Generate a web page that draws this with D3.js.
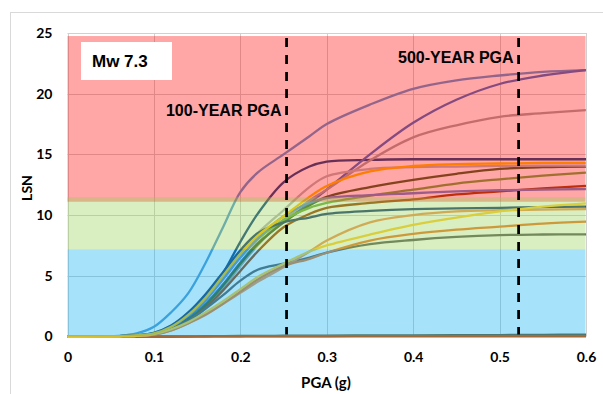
<!DOCTYPE html>
<html>
<head>
<meta charset="utf-8">
<script src="https://cdn.jsdelivr.net/npm/d3@7"></script>
<style>
  body { margin: 0; background: #fff; }
  text { font-family: Lato, "Open Sans", sans-serif; font-weight: 700; fill: #000; }
  .note { font-family: "Liberation Sans", Arial, sans-serif; }
</style>
</head>
<body>
<svg id="chart" width="603" height="394"></svg>
<script>
// PGA sample points shared by every LSN curve
const pga = [0, 0.06, 0.08, 0.1, 0.12, 0.14, 0.16, 0.18, 0.2, 0.22, 0.25, 0.28, 0.3, 0.35, 0.4, 0.45, 0.5, 0.55, 0.6];

// LSN values of each site profile at the PGA points above
const lsnNearZeroA = [0, 0, 0, 0, 0, 0.01, 0.02, 0.03, 0.04, 0.05, 0.06, 0.07, 0.08, 0.09, 0.1, 0.11, 0.12, 0.14, 0.15];
const lsnNearZeroB = [0, 0, 0, 0, 0, 0, 0.01, 0.01, 0.01, 0.02, 0.02, 0.02, 0.02, 0.03, 0.03, 0.03, 0.03, 0.03, 0.03];
const lsnProfile01 = [0, 0.05, 0.25, 0.8, 2.0, 3.6, 6.1, 9.0, 11.9, 13.5, 15.0, 16.5, 17.5, 19.1, 20.4, 21.1, 21.5, 21.8, 21.95];
const lsnProfile02 = [0, 0.03, 0.1, 0.2, 0.7, 1.6, 3.0, 5.2, 7.8, 10.1, 12.7, 14.0, 14.4, 14.55, 14.6, 14.6, 14.6, 14.6, 14.6];
const lsnProfile03 = [0, 0.03, 0.1, 0.2, 0.6, 1.4, 2.7, 4.3, 6.1, 7.7, 9.4, 11.0, 12.1, 15.0, 17.6, 19.5, 20.8, 21.5, 21.95];
const lsnProfile04 = [0, 0.03, 0.1, 0.2, 0.6, 1.3, 2.5, 4.0, 5.8, 7.5, 9.6, 11.2, 12.1, 14.5, 16.4, 17.4, 18.1, 18.4, 18.65];
const lsnProfile05 = [0, 0.03, 0.1, 0.2, 0.6, 1.4, 2.6, 4.2, 6.0, 7.6, 9.4, 10.8, 11.5, 12.3, 12.9, 13.4, 13.8, 13.95, 14.0];
const lsnProfile06 = [0, 0.03, 0.1, 0.3, 0.9, 1.9, 3.3, 5.0, 6.9, 8.5, 10.4, 12.3, 13.2, 13.8, 13.95, 14.0, 14.05, 14.07, 14.07];
const lsnProfile07 = [0, 0.03, 0.1, 0.25, 0.8, 1.8, 3.2, 4.9, 6.5, 8.0, 9.6, 10.6, 11.0, 11.6, 12.1, 12.6, 12.95, 13.25, 13.5];
const lsnProfile08 = [0, 0.03, 0.1, 0.2, 0.6, 1.3, 2.4, 3.8, 5.4, 7.0, 9.0, 10.1, 10.6, 11.0, 11.3, 11.7, 11.95, 12.2, 12.4];
const lsnProfile09 = [0, 0.03, 0.1, 0.25, 0.8, 1.7, 3.0, 4.7, 6.5, 8.1, 9.9, 11.0, 11.4, 11.65, 11.8, 11.95, 12.05, 12.1, 12.15];
const lsnProfile10 = [0, 0.03, 0.1, 0.3, 0.9, 2.0, 3.5, 5.3, 7.1, 8.5, 9.4, 9.8, 10.1, 10.35, 10.5, 10.55, 10.6, 10.65, 10.7];
const lsnProfile11 = [0, 0.03, 0.1, 0.2, 0.6, 1.3, 2.3, 3.4, 4.6, 5.5, 6.0, 6.5, 6.9, 7.6, 7.95, 8.2, 8.35, 8.4, 8.42];
const lsnProfile12 = [0, 0.02, 0.05, 0.15, 0.5, 1.1, 1.9, 2.7, 3.6, 4.5, 5.7, 7.0, 7.9, 9.4, 10.0, 10.3, 10.4, 10.45, 10.5];
const lsnProfile13 = [0, 0.02, 0.05, 0.15, 0.5, 1.1, 1.8, 2.7, 3.7, 4.7, 5.8, 6.4, 6.9, 7.9, 8.45, 8.8, 9.05, 9.3, 9.46];
const lsnProfile14 = [0, 0.02, 0.06, 0.2, 0.6, 1.2, 2.0, 2.9, 3.9, 4.9, 6.0, 7.0, 7.5, 8.4, 9.2, 9.8, 10.3, 10.7, 10.97];
const lsnProfile15 = [0, 0.03, 0.1, 0.25, 0.8, 1.8, 3.2, 5.0, 6.8, 8.3, 9.9, 11.5, 12.4, 13.6, 14.05, 14.2, 14.25, 14.3, 14.3];

// drawing order: later series sit on top
const profiles = [
  lsnNearZeroA, lsnNearZeroB, lsnProfile01, lsnProfile02, lsnProfile03, lsnProfile04,
  lsnProfile05, lsnProfile06, lsnProfile07, lsnProfile08, lsnProfile09, lsnProfile10,
  lsnProfile11, lsnProfile12, lsnProfile13, lsnProfile14, lsnProfile15
];
const profileColors = [
  "#7a5a2a", "#c55a11", "#5b9bd5", "#1a4a86", "#4472c4", "#a5a5a5",
  "#43682b", "#b7b7b7", "#70ad47", "#9e480e", "#698ed0", "#264478",
  "#636363", "#f1975a", "#ed7d31", "#ffcd33", "#ffc000"
];

// LSN severity zones (translucent overlays)
const zoneFrom = [11.1, 7.18, 0];
const zoneTo = [24.75, 11.47, 7.18];
const zoneColors = ["#ff0000", "#92d050", "#00b0f0"];

// return-period PGA markers
const markerPGA = [0.2535, 0.522];
const markerLabels = ["100-YEAR PGA", "500-YEAR PGA"];

const xTicks = [0, 0.1, 0.2, 0.3, 0.4, 0.5, 0.6];
const yTicks = [0, 5, 10, 15, 20, 25];

const svg = d3.select("#chart");
const x = d3.scaleLinear().domain([0, 0.6]).range([67.5, 586]);
const y = d3.scaleLinear().domain([0, 25]).range([336.5, 33]);

// chart frame
svg.append("rect").attr("x", 10.5).attr("y", 12.5).attr("width", 620).attr("height", 420)
  .attr("fill", "#fff").attr("stroke", "#d9d9d9").attr("stroke-width", 1);

// gridlines
const grid = svg.append("g").attr("stroke", "#d0d0d0").attr("stroke-width", 1);
grid.selectAll("line.h").data(yTicks).join("line")
  .attr("x1", x(0)).attr("x2", x(0.6))
  .attr("y1", d => Math.round(y(d)) + 0.5).attr("y2", d => Math.round(y(d)) + 0.5);
grid.selectAll("line.v").data(xTicks).join("line")
  .attr("y1", y(25)).attr("y2", y(0))
  .attr("x1", d => Math.round(x(d)) + 0.5).attr("x2", d => Math.round(x(d)) + 0.5);

// LSN curves
const line = d3.line()
  .x((d, i) => x(pga[i]))
  .y(d => y(d))
  .curve(d3.curveCatmullRom.alpha(0.5));
svg.append("g").selectAll("path").data(profiles).join("path")
  .attr("d", d => line(d))
  .attr("fill", "none")
  .attr("stroke", (d, i) => profileColors[i])
  .attr("stroke-width", 2.3)
  .attr("stroke-linejoin", "round");

// translucent zones over the curves
svg.append("g").selectAll("rect").data(zoneFrom).join("rect")
  .attr("x", x(0)).attr("width", x(0.6) - x(0) - 0.5)
  .attr("y", (d, i) => y(zoneTo[i]))
  .attr("height", (d, i) => y(d) - y(zoneTo[i]))
  .attr("fill", (d, i) => zoneColors[i])
  .attr("fill-opacity", 0.35);

// axes
const xAxis = svg.append("g").attr("transform", `translate(0,${y(0)})`)
  .call(d3.axisBottom(x).tickValues(xTicks).tickSize(0).tickPadding(16)
    .tickFormat(d => d === 0 ? "0" : d3.format(".1f")(d)));
xAxis.select(".domain").remove();
xAxis.selectAll("text").style("font-size", "14px").style("font-family", "Lato, sans-serif").style("font-weight", 700).attr("fill", "#000");

const yAxis = svg.append("g").attr("transform", `translate(${x(0)},0)`)
  .call(d3.axisLeft(y).tickValues(yTicks).tickSize(0).tickPadding(15));
yAxis.select(".domain").remove();
yAxis.selectAll("text").style("font-size", "14px").style("font-family", "Lato, sans-serif").style("font-weight", 700).attr("fill", "#000");

svg.append("text").attr("x", 326).attr("y", 388).attr("text-anchor", "middle")
  .style("font-size", "15px").text("PGA (g)");
svg.append("text").attr("transform", "translate(32,188) rotate(-90)").attr("text-anchor", "middle")
  .style("font-size", "14px").text("LSN");

// return-period markers
svg.append("g").selectAll("line").data(markerPGA).join("line")
  .attr("x1", d => x(d)).attr("x2", d => x(d))
  .attr("y1", 38).attr("y2", y(0) - 2)
  .attr("stroke", "#000").attr("stroke-width", 2.75).attr("stroke-dasharray", "9,8");
svg.append("g").selectAll("text").data(markerLabels).join("text")
  .attr("class", "note")
  .attr("x", (d, i) => x(markerPGA[i]) - 5)
  .attr("y", (d, i) => i === 0 ? 115.5 : 62.5)
  .attr("text-anchor", "end")
  .style("font-size", "16px")
  .text(d => d);

// magnitude tag
svg.append("rect").attr("x", 81).attr("y", 42).attr("width", 91).attr("height", 38).attr("fill", "#fff");
svg.append("text").attr("class", "note").attr("x", 92).attr("y", 66.5)
  .style("font-size", "17px").text("Mw 7.3");
</script>
</body>
</html>
